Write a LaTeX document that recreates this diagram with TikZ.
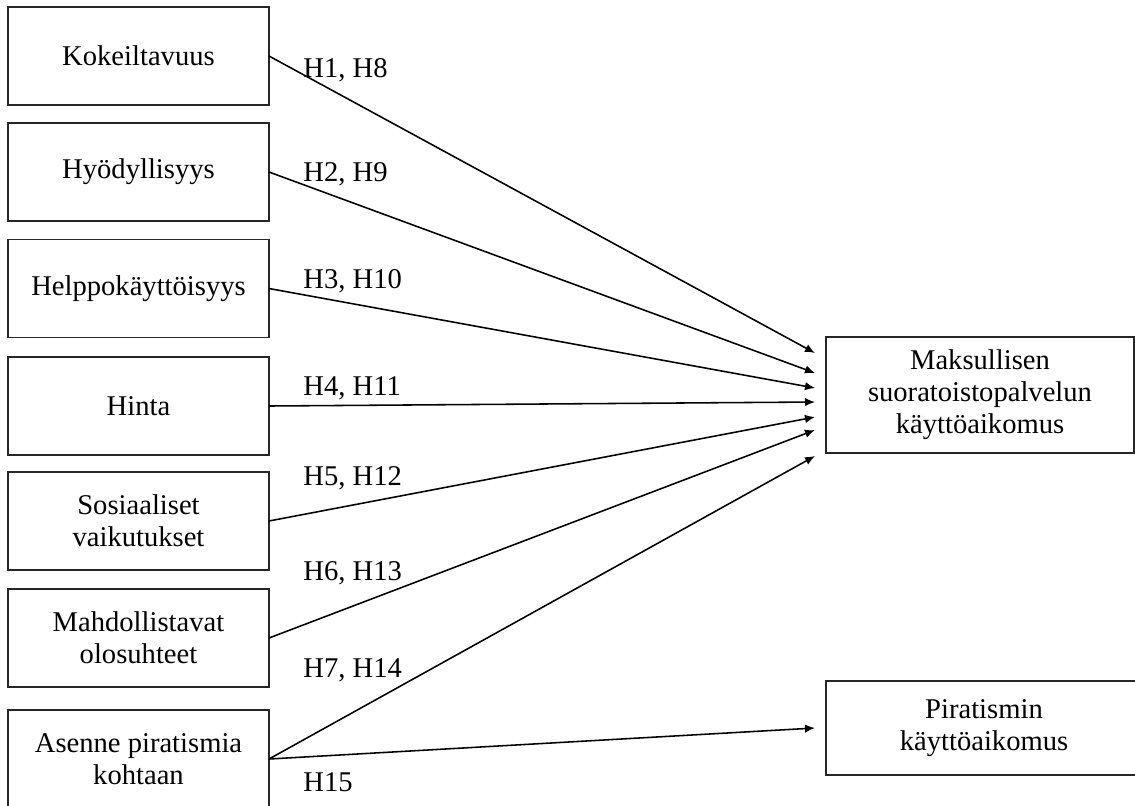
\documentclass[tikz,border=0pt]{standalone}
\usepackage{fontspec}
\setmainfont{Liberation Serif}
\usetikzlibrary{arrows.meta}
\begin{document}
\begin{tikzpicture}[x=0.5pt,y=-0.5pt,
  every node/.style={font=\fontsize{14.3}{16}\selectfont},
  factor/.style={draw=black!85,line width=0.65pt,inner sep=0pt,outer sep=0pt,
    minimum width=130.5pt,minimum height=49pt,align=center},
  outcome/.style={draw=black!85,line width=0.65pt,inner sep=0pt,outer sep=0pt,
    align=center},
  hyp/.style={anchor=base west,inner sep=0pt},
  arr/.style={line width=0.78pt,-{Latex[length=5pt,width=4.2pt]}}]
\clip (0,0) rectangle (1135,805);
\fill[white] (0,0) rectangle (1135,805);

% explanatory factors
\node[factor] (b1) at (138.5,56)  {Kokeiltavuus};
\node[factor] (b2) at (138.5,172) {Hyödyllisyys};
\node[factor] (b3) at (138.5,288.5) {Helppokäyttöisyys};
\node[factor] (b4) at (138.5,406) {Hinta};
\node[factor] (b5) at (138.5,521) {Sosiaaliset\\vaikutukset};
\node[factor] (b6) at (138.5,638) {Mahdollistavat\\olosuhteet};
\node[factor] (b7) at (138.5,759) {Asenne piratismia\\kohtaan};

% outcomes
\node[outcome,minimum width=154pt,minimum height=58pt] (m) at (980,395)
  {Maksullisen\\suoratoistopalvelun\\käyttöaikomus};
\node[outcome,minimum width=158pt,minimum height=47pt] (p) at (984,728)
  {Piratismin\\käyttöaikomus};

% arrow tips in front of the outcome boxes
\coordinate (t1) at (815,353);
\coordinate (t2) at (815,373);
\coordinate (t3) at (815,388);
\coordinate (t4) at (815,402);
\coordinate (t5) at (815,417);
\coordinate (t6) at (815,430);
\coordinate (t7) at (815,456);
\coordinate (t8) at (815,728);

\draw[arr] (b1.east) -- (t1);
\draw[arr] (b2.east) -- (t2);
\draw[arr] (b3.east) -- (t3);
\draw[arr] (b4.east) -- (t4);
\draw[arr] (b5.east) -- (t5);
\draw[arr] (b6.east) -- (t6);
\draw[arr] (b7.east) -- (t7);
\draw[arr] (b7.east) -- (t8);

% hypothesis labels
\node[hyp] (h1) at (303,77)  {H1, H8};
\node[hyp] (h2) at (303,181) {H2, H9};
\node[hyp] (h3) at (303,288) {H3, H10};
\node[hyp] (h4) at (303,395) {H4, H11};
\node[hyp] (h5) at (303,485) {H5, H12};
\node[hyp] (h6) at (303,580) {H6, H13};
\node[hyp] (h7) at (303,677) {H7, H14};
\node[hyp] (h8) at (303,791) {H15};
\end{tikzpicture}
\end{document}
